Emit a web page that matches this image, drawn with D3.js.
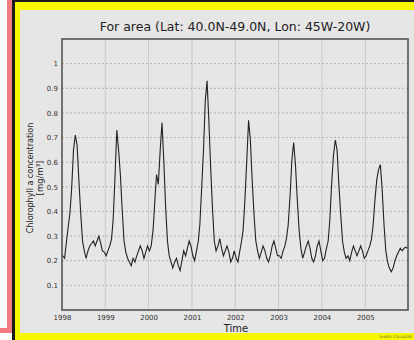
<!DOCTYPE html>
<html><head><meta charset="utf-8">
<script src="https://cdn.jsdelivr.net/npm/d3@7"></script>
<style>html,body{margin:0;padding:0;background:#fff;}svg{display:block;}</style>
</head><body>
<svg id="c" width="414" height="340"></svg>
<script>
// Semi-monthly chlorophyll a concentration [mg/m3], 24 values per year
const chl1998 = [0.22,0.21,0.28,0.34,0.39,0.49,0.65,0.71,0.67,0.53,0.39,0.28,0.24,0.21,0.24,0.26,0.27,0.28,0.26,0.28,0.30,0.27,0.24,0.235];
const chl1999 = [0.22,0.24,0.26,0.29,0.365,0.53,0.73,0.65,0.55,0.41,0.28,0.235,0.21,0.195,0.18,0.21,0.195,0.22,0.24,0.26,0.24,0.21,0.235,0.26];
const chl2000 = [0.24,0.26,0.325,0.445,0.55,0.51,0.65,0.76,0.61,0.425,0.28,0.22,0.195,0.17,0.195,0.21,0.18,0.16,0.20,0.24,0.22,0.25,0.28,0.26];
const chl2001 = [0.22,0.20,0.24,0.28,0.345,0.49,0.65,0.85,0.93,0.77,0.57,0.41,0.28,0.24,0.26,0.29,0.25,0.22,0.24,0.26,0.235,0.195,0.21,0.24];
const chl2002 = [0.21,0.195,0.24,0.28,0.325,0.445,0.61,0.77,0.69,0.53,0.385,0.28,0.24,0.21,0.235,0.26,0.24,0.21,0.195,0.22,0.26,0.28,0.25,0.22];
const chl2003 = [0.22,0.21,0.24,0.26,0.29,0.345,0.465,0.61,0.68,0.59,0.445,0.325,0.25,0.21,0.235,0.26,0.28,0.25,0.21,0.195,0.22,0.26,0.28,0.24];
const chl2004 = [0.20,0.21,0.25,0.28,0.365,0.51,0.63,0.69,0.65,0.51,0.385,0.28,0.235,0.21,0.22,0.20,0.235,0.26,0.24,0.22,0.24,0.26,0.24,0.21];
const chl2005 = [0.22,0.24,0.26,0.29,0.345,0.445,0.53,0.57,0.59,0.49,0.345,0.24,0.195,0.17,0.155,0.17,0.20,0.22,0.235,0.25,0.24,0.25,0.255,0.25];
const years = [1998,1999,2000,2001,2002,2003,2004,2005];
const yearLabels = ["1998","1999","2000","2001","2002","2003","2004","2005"];
const yTicks = [0.1,0.2,0.3,0.4,0.5,0.6,0.7,0.8,0.9,1.0];
const yTickLabels = ["0.1","0.2","0.3","0.4","0.5","0.6","0.7","0.8","0.9","1"];
const titleText = "For area (Lat: 40.0N-49.0N, Lon: 45W-20W)";
const yLabel1 = "Chlorophyll a concentration";
const yLabel2 = "[mg/m³]";
const xLabel = "Time";

const allYears = [chl1998,chl1999,chl2000,chl2001,chl2002,chl2003,chl2004,chl2005];
const data = [];
allYears.forEach((arr,i)=>{
  arr.forEach((v,k)=>{
    data.push({date:new Date(years[i], Math.floor(k/2), k%2===0?8:23), value:v});
  });
});

const svg = d3.select("#c");
const font = "DejaVu Sans, Liberation Sans, sans-serif";

// page frame decorations
svg.append("rect").attr("x",0).attr("y",0).attr("width",414).attr("height",340).attr("fill","#ffffff");
svg.append("rect").attr("x",7).attr("y",0).attr("width",5).attr("height",333).attr("fill","#f27a80");
svg.append("rect").attr("x",0).attr("y",328).attr("width",12).attr("height",5).attr("fill","#f27a80");
svg.append("rect").attr("x",12).attr("y",0).attr("width",3).attr("height",340).attr("fill","#1a1a1a");
svg.append("rect").attr("x",15).attr("y",0).attr("width",399).attr("height",2).attr("fill","#1a1a1a");
svg.append("rect").attr("x",15).attr("y",2).attr("width",399).attr("height",338).attr("fill","#f7f700");
svg.append("rect").attr("x",20).attr("y",10).attr("width",394).attr("height",323).attr("fill","#e6e6e6");

const x = d3.scaleTime().domain([new Date(1998,0,1), new Date(2005,11,27)]).range([62,408]);
const y = d3.scaleLinear().domain([0,1.1]).range([310,39]);

// vertical grid at years
svg.append("g").selectAll("line").data(years.slice(1)).join("line")
  .attr("x1",d=>x(new Date(d,0,1))).attr("x2",d=>x(new Date(d,0,1)))
  .attr("y1",39).attr("y2",310).attr("stroke","#c9c9c9").attr("stroke-width",1);
// horizontal dashed grid
svg.append("g").selectAll("line").data(yTicks).join("line")
  .attr("x1",62).attr("x2",408).attr("y1",d=>y(d)).attr("y2",d=>y(d))
  .attr("stroke","#b4b4b4").attr("stroke-width",1).attr("stroke-dasharray","2,2");

// axes
const yAxis = d3.axisLeft(y).tickValues(yTicks).tickSize(0).tickPadding(4)
  .tickFormat((d,i)=>yTickLabels[i]);
const gy = svg.append("g").attr("transform","translate(62,0)").call(yAxis);
gy.select(".domain").remove();
gy.selectAll("text").attr("font-family",font).attr("font-size",7).attr("fill","#333");

const xAxis = d3.axisBottom(x).tickValues(years.map(d=>new Date(d,0,1))).tickSize(0).tickPadding(5)
  .tickFormat((d,i)=>yearLabels[i]);
const gx = svg.append("g").attr("transform","translate(0,310)").call(xAxis);
gx.select(".domain").remove();
gx.selectAll("text").attr("font-family",font).attr("font-size",7).attr("fill","#333");

// data line
const line = d3.line().x(d=>x(d.date)).y(d=>y(d.value));
svg.append("path").datum(data).attr("d",line).attr("fill","none")
  .attr("stroke","#222").attr("stroke-width",1.1);

// frame
svg.append("rect").attr("x",62).attr("y",39).attr("width",346).attr("height",271)
  .attr("fill","none").attr("stroke","#555").attr("stroke-width",1.6);

// texts
svg.append("text").attr("x",235).attr("y",31).attr("text-anchor","middle")
  .attr("font-family",font).attr("font-size",12.5).attr("fill","#222").text(titleText);
svg.append("text").attr("transform","translate(33,178) rotate(-90)").attr("text-anchor","middle")
  .attr("font-family",font).attr("font-size",8).attr("fill","#222").text(yLabel1);
svg.append("text").attr("transform","translate(43,178) rotate(-90)").attr("text-anchor","middle")
  .attr("font-family",font).attr("font-size",8.5).attr("fill","#222").text(yLabel2);
svg.append("text").attr("x",236).attr("y",332).attr("text-anchor","middle")
  .attr("font-family",font).attr("font-size",10).attr("fill","#222").text(xLabel);
svg.append("text").attr("x",412).attr("y",338).attr("text-anchor","end")
  .attr("font-family",font).attr("font-size",3.5).attr("fill","#555").text("GrADS: COLA/IGES");
</script>
</body></html>
